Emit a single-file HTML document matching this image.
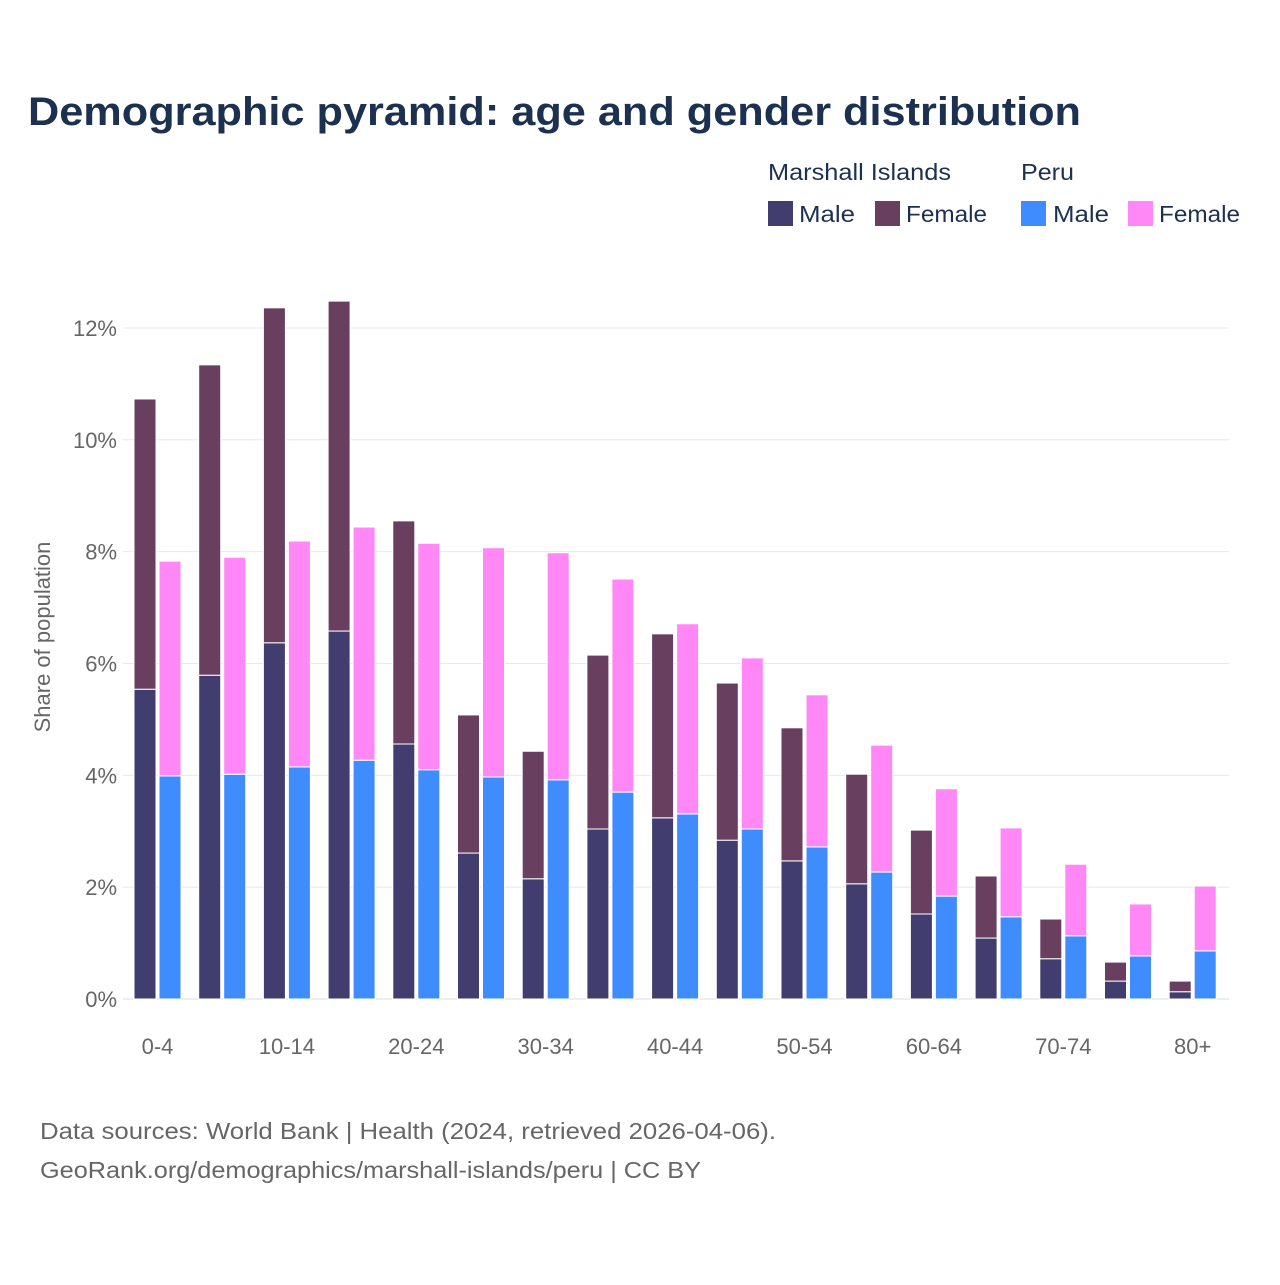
<!DOCTYPE html>
<html><head><meta charset="utf-8"><style>
body{margin:0;background:#fff;font-family:"Liberation Sans",sans-serif;}
svg text{font-family:"Liberation Sans",sans-serif;}
</style></head><body>
<svg id="chart" width="1280" height="1280" viewBox="0 0 1280 1280">
<rect width="1280" height="1280" fill="#fff"/>
<text x="28" y="125" font-size="40" font-weight="bold" fill="#1c3150" textLength="1053" lengthAdjust="spacingAndGlyphs">Demographic pyramid: age and gender distribution</text>
<g>
<text x="768" y="180" font-size="23" fill="#1c3150" textLength="183" lengthAdjust="spacingAndGlyphs">Marshall Islands</text>
<text x="1021" y="180" font-size="23" fill="#1c3150" textLength="53" lengthAdjust="spacingAndGlyphs">Peru</text>
<g><rect x="768" y="201" width="25" height="25" fill="#413d6f"/><text x="799" y="222" font-size="23" fill="#1c3150" textLength="56" lengthAdjust="spacingAndGlyphs">Male</text></g>
<g><rect x="875" y="201" width="25" height="25" fill="#683f5f"/><text x="906" y="222" font-size="23" fill="#1c3150" textLength="81" lengthAdjust="spacingAndGlyphs">Female</text></g>
<g><rect x="1021" y="201" width="25" height="25" fill="#3f8cff"/><text x="1053" y="222" font-size="23" fill="#1c3150" textLength="56" lengthAdjust="spacingAndGlyphs">Male</text></g>
<g><rect x="1128" y="201" width="25" height="25" fill="#ff88f6"/><text x="1159" y="222" font-size="23" fill="#1c3150" textLength="81" lengthAdjust="spacingAndGlyphs">Female</text></g>
</g>
<g id="grid"></g>
<g id="bars"></g>
<g id="xlabels"></g>
<text transform="translate(50,637) rotate(-90)" text-anchor="middle" font-size="22" fill="#666">Share of population</text>
<text x="40" y="1139" font-size="23" fill="#666" textLength="736" lengthAdjust="spacingAndGlyphs">Data sources: World Bank | Health (2024, retrieved 2026-04-06).</text>
<text x="40" y="1178" font-size="23" fill="#666" textLength="661" lengthAdjust="spacingAndGlyphs">GeoRank.org/demographics/marshall-islands/peru | CC BY</text>
</svg>
<script>
const ageGroups=["0-4","5-9","10-14","15-19","20-24","25-29","30-34","35-39","40-44","45-49","50-54","55-59","60-64","65-69","70-74","75-79","80+"];
const mhMale=[5.54,5.79,6.37,6.58,4.56,2.61,2.15,3.04,3.24,2.84,2.47,2.06,1.52,1.09,0.72,0.32,0.13];
const mhFemale=[5.19,5.55,5.99,5.90,3.99,2.47,2.28,3.11,3.29,2.81,2.38,1.96,1.50,1.11,0.71,0.34,0.19];
const peMale=[3.99,4.02,4.15,4.27,4.10,3.97,3.92,3.70,3.31,3.04,2.72,2.27,1.84,1.47,1.13,0.77,0.86];
const peFemale=[3.84,3.88,4.04,4.17,4.05,4.10,4.06,3.81,3.40,3.06,2.72,2.27,1.92,1.59,1.28,0.93,1.16];
const yTicks=[0,2,4,6,8,10,12];
const NS="http://www.w3.org/2000/svg";
const y0=999,pxPer=55.92,x0=134,step=64.7,bw=22,gap=3;
const ys=v=>y0-v*pxPer;
const xs=i=>x0+i*step;
function mk(tag,attrs,parent){const e=document.createElementNS(NS,tag);for(const k in attrs)e.setAttribute(k,attrs[k]);parent.appendChild(e);return e;}
const grid=document.getElementById('grid'),bars=document.getElementById('bars'),xl=document.getElementById('xlabels');
yTicks.forEach(t=>{
  const l=mk('line',{x1:123,x2:1229,y1:ys(t),y2:ys(t),stroke:t===0?'#ddd':'#e8e8ec','stroke-width':1},grid);
  
  
  const tx=mk('text',{x:117,y:ys(t)+8,'text-anchor':'end','font-size':22,fill:'#666'},grid);
  tx.textContent=t+'%';
  
  
});
function bar(x,v0,v1,color,name){
  const r=mk('rect',{x:x,y:ys(v1),width:bw,height:ys(v0)-ys(v1),fill:color,stroke:'#fff','stroke-width':1},bars);
  
  
}
ageGroups.forEach((g,i)=>{
  const x=xs(i);
  bar(x,0,mhMale[i],'#413d6f','bar-marshall-male-'+g);
  bar(x,mhMale[i],mhMale[i]+mhFemale[i],'#683f5f','bar-marshall-female-'+g);
  bar(x+bw+gap,0,peMale[i],'#3f8cff','bar-peru-male-'+g);
  bar(x+bw+gap,peMale[i],peMale[i]+peFemale[i],'#ff88f6','bar-peru-female-'+g);
  if(i%2===0){
    const t=mk('text',{x:x+bw+gap/2,y:1054,'text-anchor':'middle','font-size':22,fill:'#666'},xl);
    t.textContent=g;
    
    
  }
});
</script>
</body></html>
